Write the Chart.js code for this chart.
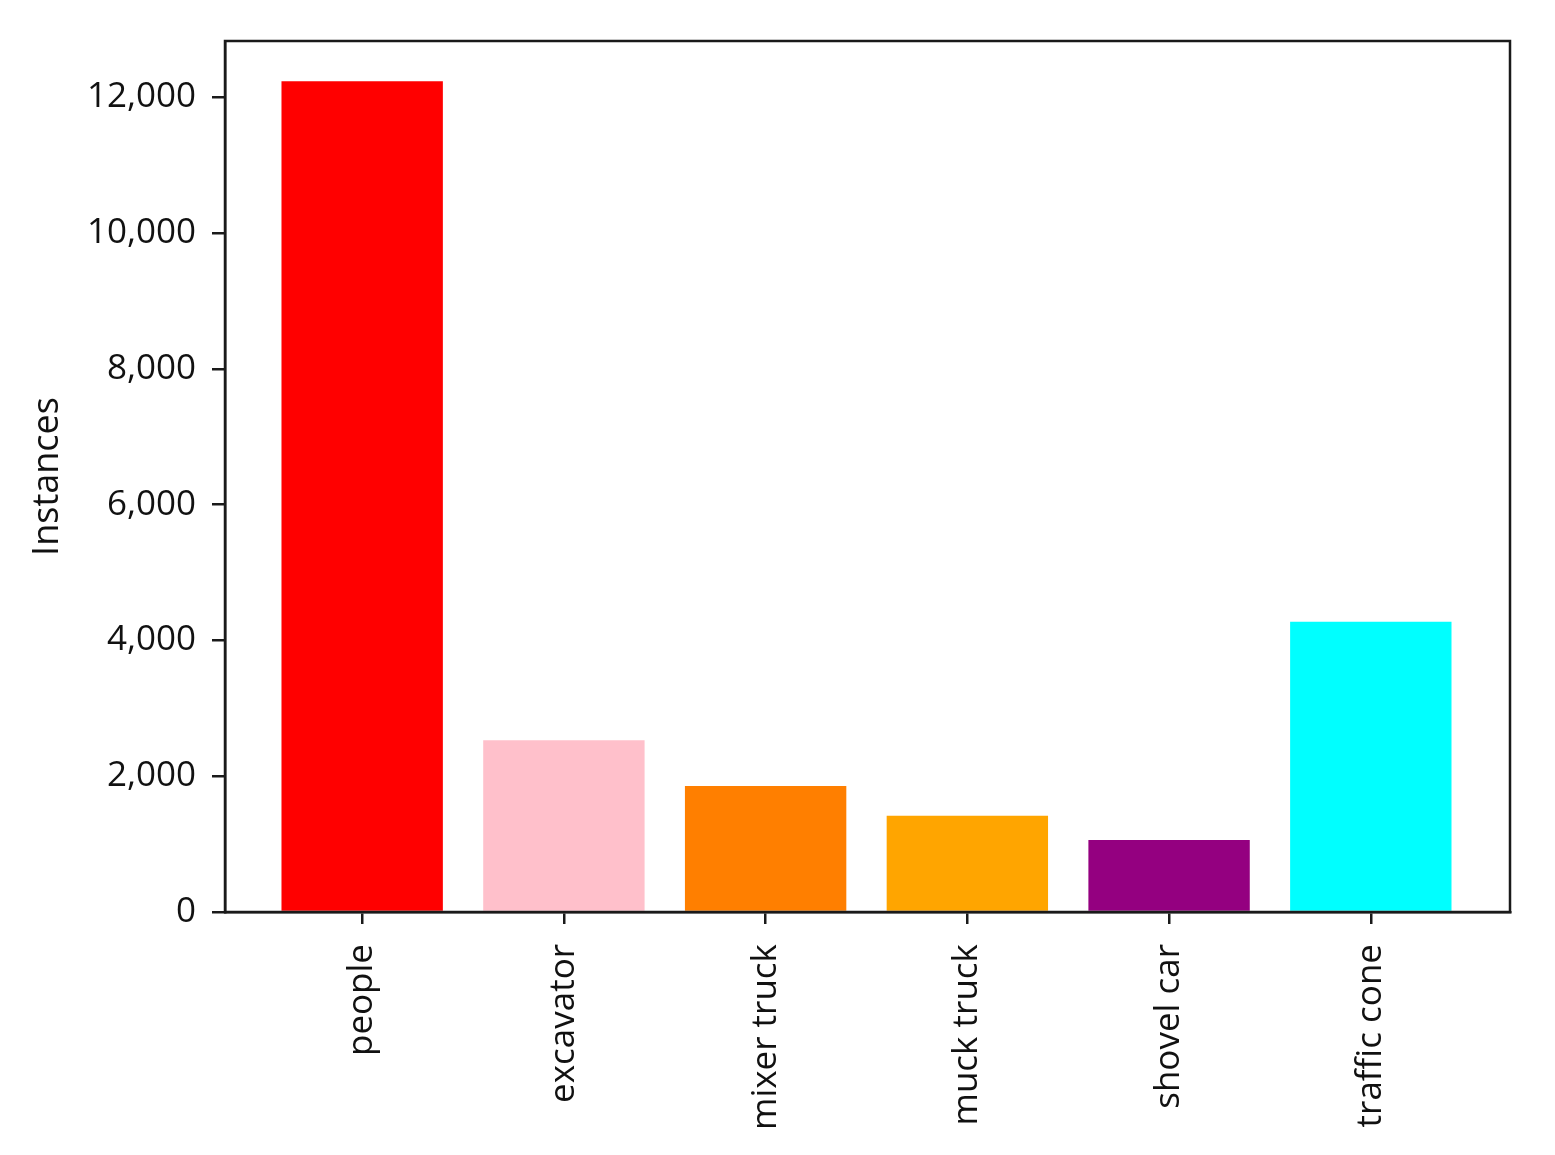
<!DOCTYPE html>
<html>
<head>
<meta charset="utf-8">
<script src="https://cdn.jsdelivr.net/npm/chart.js@4"></script>
<style>
  html, body { margin: 0; padding: 0; background: #fff; }
  #wrap { width: 1555px; height: 1155px; }
</style>
</head>
<body>
<div id="wrap"><canvas id="chart"></canvas></div>
<script>
const categories = ["people", "excavator", "mixer truck", "muck truck", "shovel car", "traffic cone"];
const instances = [12238, 2530, 1855, 1418, 1060, 4275];
const barColors = ["#ff0000", "#ffc0cb", "#ff7f00", "#ffa500", "#940080", "#00ffff"];
const yTicks = [0, 2000, 4000, 6000, 8000, 10000, 12000];

const axisColor = "#1a1a1a";
const fontFamily = "'Open Sans', sans-serif";

// matplotlib-style box around the plot area
const frame = {
  id: "frame",
  afterDraw(chart) {
    const { ctx, chartArea } = chart;
    ctx.save();
    ctx.strokeStyle = axisColor;
    ctx.lineWidth = 2.5;
    ctx.strokeRect(chartArea.left, chartArea.top, chartArea.right - chartArea.left, chartArea.bottom - chartArea.top);
    ctx.restore();
  },
};

const points = categories.map((c, i) => ({ x: i, y: instances[i] }));

new Chart(document.getElementById("chart").getContext("2d"), {
  type: "bar",
  data: {
    datasets: [
      {
        label: "Instances",
        data: points,
        backgroundColor: barColors,
        borderWidth: 0,
        barPercentage: 0.8,
        categoryPercentage: 1,
      },
    ],
  },
  options: {
    responsive: true,
    maintainAspectRatio: false,
    animation: false,
    layout: { padding: { top: 41, right: 45 } },
    plugins: {
      legend: { display: false },
      tooltip: { enabled: false },
    },
    scales: {
      x: {
        type: "linear",
        offset: false,
        min: -0.68,
        max: 5.69,
        afterBuildTicks: (scale) => {
          scale.ticks = categories.map((c, i) => ({ value: i }));
        },
        afterFit: (scale) => {
          scale.height = 243;
        },
        grid: {
          offset: false,
          drawOnChartArea: false,
          drawTicks: true,
          tickLength: 12,
          color: axisColor,
          lineWidth: 2.5,
        },
        border: { display: true, color: axisColor, width: 2.5 },
        ticks: {
          autoSkip: false,
          minRotation: 90,
          maxRotation: 90,
          padding: 20,
          color: "#111",
          font: { family: fontFamily, size: 35 },
          callback: (value) => categories[value],
        },
      },
      y: {
        min: 0,
        max: 12830,
        afterBuildTicks: (scale) => {
          scale.ticks = yTicks.map((v) => ({ value: v }));
        },
        afterFit: (scale) => {
          scale.width = 225;
        },
        grid: {
          drawOnChartArea: false,
          drawTicks: true,
          tickLength: 13,
          color: axisColor,
          lineWidth: 2.5,
        },
        border: { display: true, color: axisColor, width: 2.5 },
        ticks: {
          padding: 16,
          color: "#111",
          font: { family: fontFamily, size: 35 },
          callback: (value) => value.toLocaleString("en-US"),
        },
        title: {
          display: true,
          text: "Instances",
          color: "#111",
          font: { family: fontFamily, size: 36 },
          padding: { top: 26, bottom: 0 },
        },
      },
    },
  },
  plugins: [frame],
});
</script>
</body>
</html>
